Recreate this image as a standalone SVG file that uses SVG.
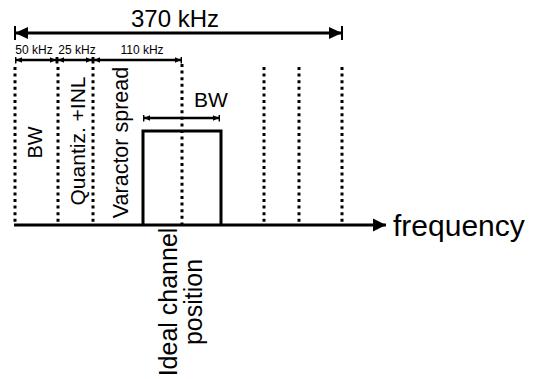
<svg xmlns="http://www.w3.org/2000/svg" width="538" height="379" viewBox="0 0 538 379">
<defs>
<style>
text{font-family:"Liberation Sans",Arial,sans-serif;fill:#000}
.dot{stroke:#000;stroke-width:3;stroke-dasharray:3 3.6;fill:none}
.ln{stroke:#000;fill:none}
</style>
<marker id="bigE" viewBox="0 0 14 14" markerWidth="14" markerHeight="14" refX="14" refY="7" markerUnits="userSpaceOnUse" orient="auto-start-reverse">
<path d="M0,1 L13,7 L0,13 z"/><rect x="12" y="0" width="2" height="14"/>
</marker>
<marker id="smE" viewBox="0 0 7 7" markerWidth="7" markerHeight="7" refX="7" refY="3.5" markerUnits="userSpaceOnUse" orient="auto-start-reverse">
<path d="M0,0.8 L6,3.5 L0,6.2 z"/><rect x="5.6" y="0" width="1.4" height="7"/>
</marker>
<marker id="axE" viewBox="0 0 14 14" markerWidth="14" markerHeight="14" refX="13" refY="7" markerUnits="userSpaceOnUse" orient="auto">
<path d="M0,0.5 L13,7 L0,13.5 z"/>
</marker>
</defs>
<rect width="538" height="379" fill="#fff"/>
<g id="connectors">
<line class="ln" x1="14" y1="33" x2="343" y2="33" stroke-width="3" marker-start="url(#bigE)" marker-end="url(#bigE)"/>
<line class="ln" x1="15" y1="60" x2="57" y2="60" stroke-width="2.5" marker-start="url(#smE)" marker-end="url(#smE)"/>
<line class="ln" x1="57" y1="60" x2="93" y2="60" stroke-width="2.5" marker-start="url(#smE)" marker-end="url(#smE)"/>
<line class="ln" x1="93" y1="60" x2="182" y2="60" stroke-width="2.5" marker-start="url(#smE)" marker-end="url(#smE)"/>
<line class="ln" x1="143" y1="118" x2="220" y2="118" stroke-width="2.5" marker-start="url(#smE)" marker-end="url(#smE)"/>
<line class="ln" x1="14" y1="225" x2="386" y2="225" stroke-width="3" marker-end="url(#axE)"/>
</g>
<g id="gridlines">
<line class="dot" x1="15" y1="67" x2="15" y2="224"/>
<line class="dot" x1="58" y1="67" x2="58" y2="224"/>
<line class="dot" x1="93" y1="67" x2="93" y2="224"/>
<line class="dot" x1="182" y1="64" x2="182" y2="224"/>
<line class="dot" x1="264" y1="67" x2="264" y2="224"/>
<line class="dot" x1="299" y1="67" x2="299" y2="224"/>
<line class="dot" x1="342" y1="67" x2="342" y2="224"/>
</g>
<g id="channel">
<polyline class="ln" stroke-width="3" points="143,225 143,131 221,131 221,225"/>
</g>
<g id="labels">
<text x="175" y="27" font-size="24" text-anchor="middle">370 kHz</text>
<text x="34" y="54" font-size="12" text-anchor="middle">50 kHz</text>
<text x="77" y="54" font-size="12" text-anchor="middle">25 kHz</text>
<text x="142" y="54" font-size="12" text-anchor="middle">110 kHz</text>
<text x="211" y="107" font-size="21" text-anchor="middle">BW</text>
<text x="393" y="236" font-size="30">frequency</text>
<text transform="translate(42,142.5) rotate(-90)" font-size="20" text-anchor="middle">BW</text>
<text transform="translate(85,141) rotate(-90)" font-size="21" text-anchor="middle">Quantiz. +INL</text>
<text transform="translate(128,142.5) rotate(-90)" font-size="21.5" text-anchor="middle">Varactor spread</text>
<text transform="translate(177,302) rotate(-90)" font-size="25" text-anchor="middle">Ideal channel</text>
<text transform="translate(202,302) rotate(-90)" font-size="25" text-anchor="middle">position</text>
</g>
</svg>
